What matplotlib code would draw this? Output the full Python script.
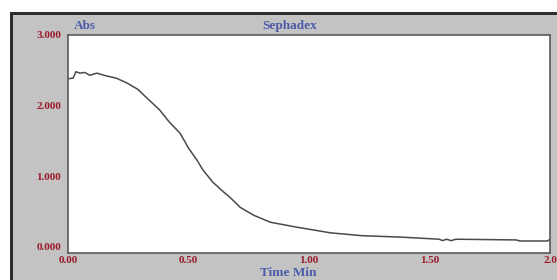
import matplotlib
matplotlib.use("Agg")
import matplotlib.pyplot as plt
from matplotlib.patches import Rectangle

time_min = [0.0, 0.021, 0.033, 0.05, 0.07, 0.09, 0.12, 0.16, 0.20, 0.245, 0.29, 0.33,
            0.38, 0.42, 0.465, 0.50, 0.535, 0.56, 0.60, 0.645, 0.67, 0.715, 0.77, 0.84,
            0.95, 1.09, 1.22, 1.38, 1.54, 1.555, 1.57, 1.59, 1.61, 1.86, 1.875, 1.99, 2.0]
absorbance = [2.38, 2.39, 2.48, 2.46, 2.47, 2.43, 2.46, 2.42, 2.39, 2.32, 2.23, 2.10,
              1.94, 1.77, 1.61, 1.40, 1.23, 1.09, 0.92, 0.78, 0.71, 0.56, 0.45, 0.35,
              0.28, 0.20, 0.16, 0.14, 0.11, 0.09, 0.11, 0.09, 0.11, 0.10, 0.085, 0.085, 0.11]
x_ticks = [0.0, 0.5, 1.0, 1.5, 2.0]
x_labels = ["0.00", "0.50", "1.00", "1.50", "2.0"]
y_ticks = [0.0, 1.0, 2.0, 3.0]
y_labels = ["0.000", "1.000", "2.000", "3.000"]

W, H = 557, 280
fig = plt.figure(figsize=(W / 100, H / 100), dpi=100, facecolor="white")

# gray panel with dark border
fig.patches.append(Rectangle((10 / W, 0), 1 - 10 / W, 1 - 12 / H, transform=fig.transFigure,
                             facecolor="#c3c3c3", edgecolor="none", zorder=-2))
fig.patches.append(Rectangle((10 / W, 0), 2.5 / W, 1 - 12 / H, transform=fig.transFigure,
                             facecolor="#2e2e2e", edgecolor="none", zorder=-1))
fig.patches.append(Rectangle((10 / W, 1 - 14.5 / H), 1 - 10 / W, 2.5 / H, transform=fig.transFigure,
                             facecolor="#2e2e2e", edgecolor="none", zorder=-1))

ax = fig.add_axes([68 / W, 1 - 253 / H, (550 - 68) / W, (253 - 35) / H])
ax.set_zorder(5)
ax.set_facecolor("white")
ax.plot(time_min, absorbance, color="#4a4a4a", lw=1.1)
ax.set_xlim(0, 2.0)
ax.set_ylim(-0.085, 3.0)
ax.set_xticks(x_ticks)
ax.set_xticklabels(x_labels)
ax.set_yticks(y_ticks)
ax.set_yticklabels(y_labels)
ax.tick_params(length=0, labelsize=8, labelcolor="#9a1b2a")
ax.tick_params(axis="x", pad=2)
ax.tick_params(axis="y", pad=5)
for lab in ax.get_xticklabels() + ax.get_yticklabels():
    lab.set_fontfamily("Liberation Serif")
    lab.set_fontweight("bold")
for s in ax.spines.values():
    s.set_color("#5a5a5a")
    s.set_linewidth(1.2)

tcol = "#4a5aa8"
fig.text(85 / W, 1 - 26 / H, "Abs", color=tcol, fontsize=9.5, fontweight="bold",
         family="Liberation Serif", ha="center", va="center")
fig.text(290 / W, 1 - 26 / H, "Sephadex", color=tcol, fontsize=9.5, fontweight="bold",
         family="Liberation Serif", ha="center", va="center")
fig.text(288 / W, 1 - 273.5 / H, "Time Min", color=tcol, fontsize=9.5, fontweight="bold",
         family="Liberation Serif", ha="center", va="center")

fig.savefig("out.png", dpi=100, facecolor="white")
